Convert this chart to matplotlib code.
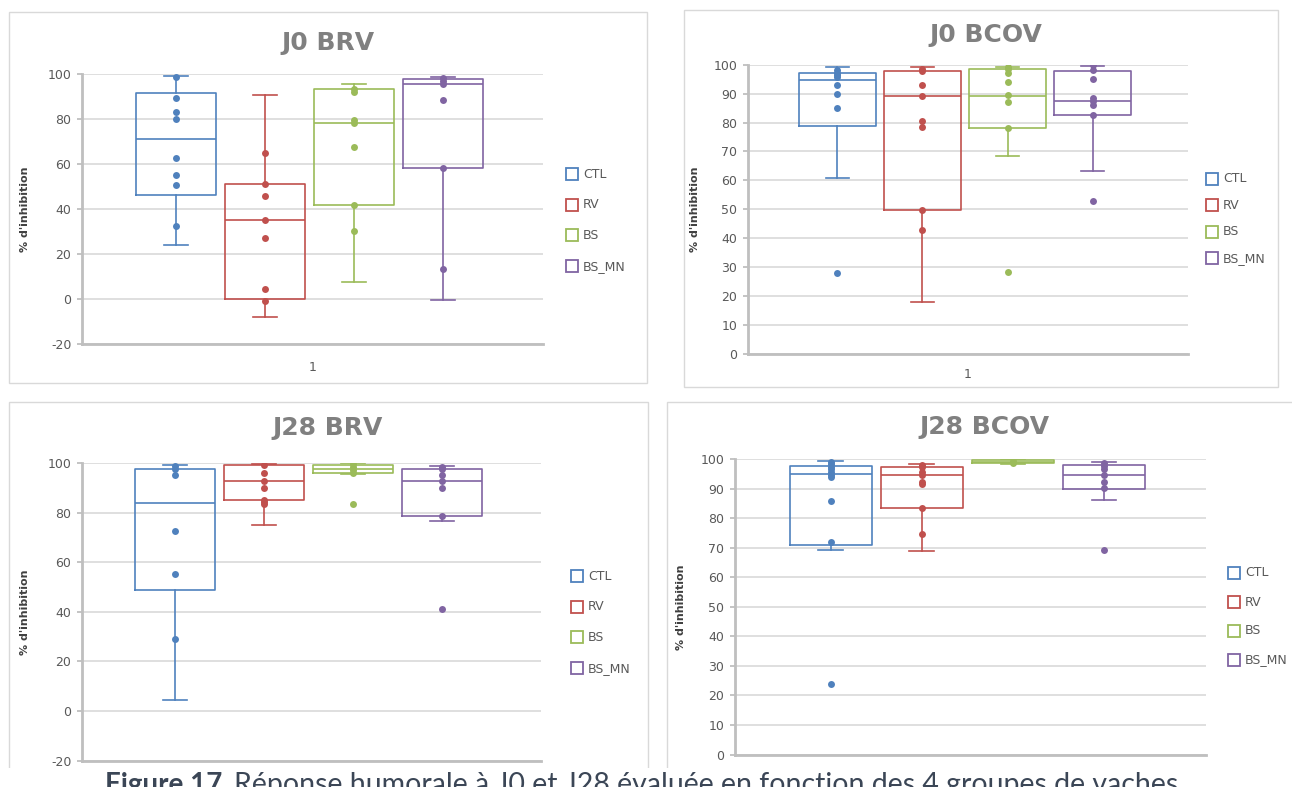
import numpy as np
import matplotlib
matplotlib.use('Agg')
import matplotlib.pyplot as plt
import matplotlib.patches as patches

plt.rcParams['axes.unicode_minus'] = False

W, H = 1292, 787

groupes = ['CTL', 'RV', 'BS', 'BS_MN']
couleurs = ['#4f81bd', '#c0504d', '#9bbb59', '#8064a2']

# J0 BRV
j0_brv_q1 = [46.5, 0.0, 41.9, 58.5]
j0_brv_med = [71.4, 35.4, 78.2, 95.9]
j0_brv_q3 = [91.7, 51.3, 93.3, 98.1]
j0_brv_bas = [24.1, -8.0, 7.9, -0.3]
j0_brv_haut = [99.1, 90.8, 95.9, 99.0]
j0_brv_points = [
    [98.7, 89.6, 83.1, 80.0, 62.8, 55.1, 51.0, 32.4],
    [65.0, 51.3, 46.1, 35.4, 27.1, 4.4, -0.7],
    [93.3, 92.0, 79.7, 78.2, 67.6, 41.9, 30.2],
    [98.5, 96.9, 95.7, 88.8, 58.5, 13.3],
]

# J0 BCOV
j0_bcov_q1 = [78.9, 49.7, 78.2, 82.6]
j0_bcov_med = [94.6, 89.1, 89.3, 87.4]
j0_bcov_q3 = [97.2, 97.9, 98.5, 97.9]
j0_bcov_bas = [60.9, 18.1, 68.4, 63.4]
j0_bcov_haut = [99.1, 99.1, 99.1, 99.7]
j0_bcov_points = [
    [98.2, 97.2, 96.4, 95.9, 93.1, 90.0, 85.1, 28.1],
    [98.4, 97.9, 93.1, 89.1, 80.5, 78.5, 49.7, 43.0],
    [99.3, 98.5, 97.0, 93.9, 89.4, 87.2, 78.2, 28.3],
    [99.8, 98.2, 95.2, 88.6, 87.6, 85.9, 82.6, 53.0],
]

# J28 BRV
j28_brv_q1 = [48.9, 85.2, 96.2, 78.9]
j28_brv_med = [84.1, 92.7, 97.8, 92.7]
j28_brv_q3 = [97.8, 99.3, 99.3, 97.8]
j28_brv_bas = [4.6, 75.1, 95.8, 76.9]
j28_brv_haut = [99.3, 99.7, 100.0, 98.8]
j28_brv_points = [
    [98.9, 97.6, 95.4, 72.7, 55.3, 29.1],
    [99.3, 96.2, 92.7, 89.9, 85.2, 84.5, 83.6],
    [99.6, 98.7, 97.3, 96.2, 83.4],
    [98.7, 97.6, 95.2, 92.7, 89.9, 78.9, 41.2],
]

# J28 BCOV
j28_bcov_q1 = [71.0, 83.4, 98.5, 90.0]
j28_bcov_med = [94.8, 94.5, 99.1, 94.7]
j28_bcov_q3 = [97.6, 97.3, 99.5, 98.1]
j28_bcov_bas = [69.1, 68.9, 98.2, 86.1]
j28_bcov_haut = [99.2, 98.4, 99.9, 98.9]
j28_bcov_points = [
    [99.0, 98.3, 97.4, 96.5, 95.6, 94.7, 93.8, 85.9, 71.9, 23.9],
    [98.1, 97.2, 95.6, 94.7, 92.2, 91.4, 83.4, 74.5],
    [99.4, 98.8],
    [98.5, 97.6, 96.7, 94.7, 92.2, 90.3, 69.1],
]

legende_titre = "Figure 17."
legende_texte = "Réponse humorale à J0 et J28 évaluée en fonction des 4 groupes de vaches"


def fx(x):
    return x / W


def fy(y):
    return 1 - y / H


def rect_px(x0, y0, x1, y1):
    return [fx(x0), fy(y1), (x1 - x0) / W, (y1 - y0) / H]


def cadre(fig, x0, y0, x1, y1):
    r = patches.Rectangle((fx(x0), fy(y1)), (x1 - x0) / W, (y1 - y0) / H,
                          transform=fig.transFigure, fill=False,
                          edgecolor='#d9d9d9', linewidth=1, zorder=-1)
    fig.add_artist(r)


def panneau(fig, zone, titre, titre_xy, q1, med, q3, bas, haut, points,
            ylim, yticks, ylabel_x, leg_x, leg_y0, leg_pas, pad_x):
    ax = fig.add_axes(rect_px(*zone))
    for i, c in enumerate(couleurs):
        stats = [{'q1': q1[i], 'med': med[i], 'q3': q3[i],
                  'whislo': bas[i], 'whishi': haut[i], 'fliers': []}]
        props = dict(color=c, linewidth=1.2)
        ax.bxp(stats, positions=[i + 1], widths=0.9, capwidths=[0.27],
               showfliers=False, manage_ticks=False,
               boxprops=props, medianprops=props,
               whiskerprops=props, capprops=props, zorder=2)
        ax.scatter(np.full(len(points[i]), i + 1), points[i], s=25,
                   color=c, linewidths=0, zorder=3)

    ax.set_xlim(-0.05, 5.12)
    ax.set_ylim(*ylim)
    ax.set_yticks(yticks)
    # l'etiquette "1" des graphiques du bas est cachee par la legende de figure
    if pad_x is None:
        ax.set_xticks([])
    else:
        ax.set_xticks([2.535])
        ax.set_xticklabels(['1'])
        ax.tick_params(axis='x', length=0, pad=pad_x, labelsize=9, labelcolor='#595959')
    ax.tick_params(axis='y', length=3.6, width=1.3, color='#bfbfbf',
                   labelsize=9, labelcolor='#595959', pad=4)
    ax.yaxis.grid(True, color='#d9d9d9', linewidth=1.2)
    ax.set_axisbelow(True)
    for s in ['top', 'right']:
        ax.spines[s].set_visible(False)
    for s in ['left', 'bottom']:
        ax.spines[s].set_color('#bfbfbf')
        ax.spines[s].set_linewidth(2)

    ax.set_ylabel("% d'inhibition", fontsize=8, fontweight='bold', color='#404040')
    ax.yaxis.set_label_coords(fx(ylabel_x), (fy(zone[1]) + fy(zone[3])) / 2,
                              transform=fig.transFigure)

    fig.text(fx(titre_xy[0]), fy(titre_xy[1]), titre, fontsize=18,
             fontweight='bold', color='#808080', ha='center', va='center')

    # legende
    for i, (g, c) in enumerate(zip(groupes, couleurs)):
        y = leg_y0 + i * leg_pas
        carre = patches.Rectangle((fx(leg_x - 6), fy(y + 6)), 12 / W, 12 / H,
                                  transform=fig.transFigure, fill=False,
                                  edgecolor=c, linewidth=1.3)
        fig.add_artist(carre)
        fig.text(fx(leg_x + 11), fy(y), g, fontsize=9, color='#595959',
                 ha='left', va='center')
    return ax


fig = plt.figure(figsize=(W / 100, H / 100), dpi=100)

cadre(fig, 9, 12, 647, 383)
cadre(fig, 684, 10, 1278, 387)
cadre(fig, 9, 402, 648, 800)
cadre(fig, 667, 402, 1300, 800)

panneau(fig, (82, 74.3, 543, 344.3), 'J0 BRV', (328, 43),
        j0_brv_q1, j0_brv_med, j0_brv_q3, j0_brv_bas, j0_brv_haut, j0_brv_points,
        (-20, 100), range(-20, 101, 20), 30, 572, 174, 30.7, 12)
panneau(fig, (748, 64.7, 1188, 354), 'J0 BCOV', (986, 35),
        j0_bcov_q1, j0_bcov_med, j0_bcov_q3, j0_bcov_bas, j0_bcov_haut, j0_bcov_points,
        (0, 100), range(0, 101, 10), 700, 1212, 179, 26.4, 10)
panneau(fig, (82, 463.3, 541, 760.5), 'J28 BRV', (328, 428),
        j28_brv_q1, j28_brv_med, j28_brv_q3, j28_brv_bas, j28_brv_haut, j28_brv_points,
        (-20, 100), range(-20, 101, 20), 30, 577, 576, 30.7, None)
panneau(fig, (735, 459, 1206, 754.6), 'J28 BCOV', (985, 427),
        j28_bcov_q1, j28_bcov_med, j28_bcov_q3, j28_bcov_bas, j28_bcov_haut, j28_bcov_points,
        (0, 100), range(0, 101, 10), 686, 1234, 573, 29, None)

# bandeau blanc de la legende de figure
fig.add_artist(patches.Rectangle((0, 0), 1, (H - 768) / H, transform=fig.transFigure,
                                 facecolor='white', edgecolor='none', zorder=5))
fig.text(fx(105), fy(793), legende_titre, fontsize=20, fontweight='bold',
         family='Lato', color='#3b4656', ha='left', va='baseline', zorder=6)
fig.text(fx(234), fy(793), legende_texte, fontsize=20.5, family='Lato',
         color='#3b4656', ha='left', va='baseline', zorder=6)

fig.savefig('out.png', dpi=100, facecolor='white')
